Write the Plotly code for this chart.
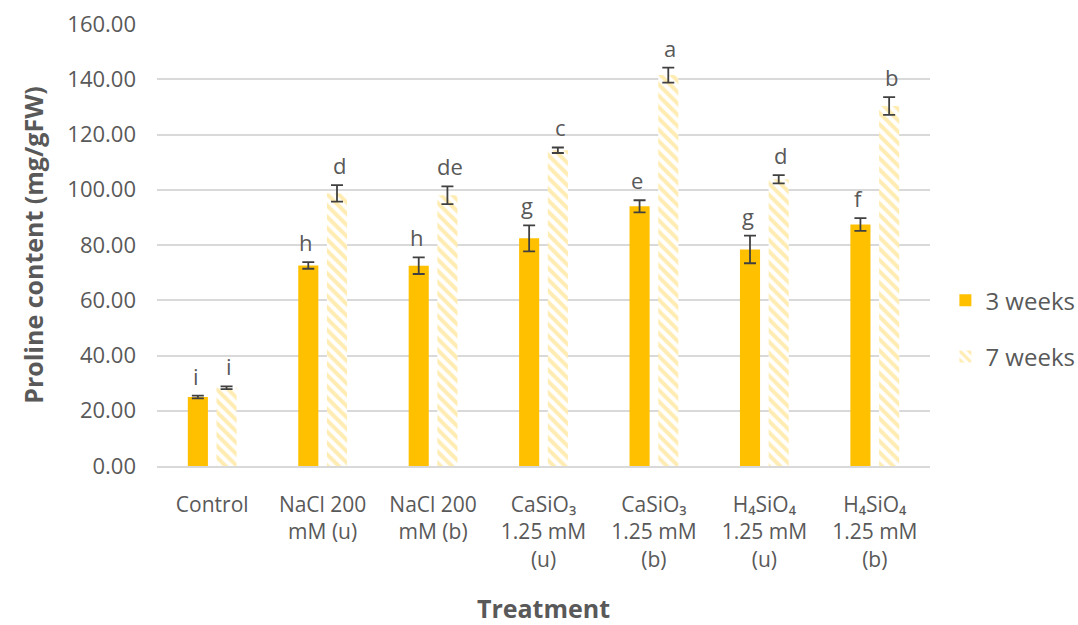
import plotly.graph_objects as go

categories = [
    "Control",
    "NaCl 200<br>mM (u)",
    "NaCl 200<br>mM (b)",
    "CaSiO₃<br>1.25 mM<br>(u)",
    "CaSiO₃<br>1.25 mM<br>(b)",
    "H₄SiO₄<br>1.25 mM<br>(u)",
    "H₄SiO₄<br>1.25 mM<br>(b)",
]
weeks3 = [25.0, 72.6, 72.5, 82.4, 94.0, 78.4, 87.4]
weeks3_err = [0.5, 1.2, 3.0, 4.7, 2.2, 5.0, 2.3]
weeks3_letters = ["i", "h", "h", "g", "e", "g", "f"]
weeks7 = [28.3, 98.7, 98.0, 114.3, 141.5, 103.8, 130.3]
weeks7_err = [0.5, 3.0, 3.2, 1.0, 2.7, 1.5, 3.2]
weeks7_letters = ["i", "d", "de", "c", "a", "d", "b"]
y_ticks = [0, 20, 40, 60, 80, 100, 120, 140, 160]

font_family = "'Open Sans', sans-serif"
text_grey = "#595959"
err_style = dict(type="data", thickness=1.8, width=6, color="#404040")

fig = go.Figure()
fig.add_trace(go.Bar(
    name="3 weeks", x=categories, y=weeks3, legendgroup="w3",
    marker=dict(color="#FFC000", line=dict(width=0)),
    error_y=dict(array=weeks3_err, **err_style),
))
fig.add_trace(go.Bar(
    name="7 weeks", x=categories, y=weeks7, legendgroup="w7",
    marker=dict(color="white", line=dict(width=0),
                pattern=dict(shape="\\", fgcolor="#FFD966", bgcolor="white",
                             size=8, solidity=0.5)),
    error_y=dict(array=weeks7_err, **err_style),
))

# significance letters above each error bar
for i, cat in enumerate(categories):
    for val, err, lab, off in ((weeks3, weeks3_err, weeks3_letters, -0.15),
                               (weeks7, weeks7_err, weeks7_letters, 0.15)):
        fig.add_annotation(
            x=i + off, y=val[i] + err[i], text=lab[i], showarrow=False,
            xref="x", yref="y", yanchor="bottom", yshift=3,
            font=dict(size=22, color=text_grey, family=font_family),
        )

fig.update_layout(
    width=1078, height=625,
    margin=dict(l=157, r=148, t=24, b=159, autoexpand=False),
    plot_bgcolor="white", paper_bgcolor="white",
    barmode="group", bargap=0.48, bargroupgap=0.3,
    font=dict(family=font_family, color=text_grey, size=21),
    legend=dict(xref="container", yref="container", x=0.877, y=0.474,
                yanchor="middle", xanchor="left",
                font=dict(size=24, color=text_grey),
                itemwidth=30, tracegroupgap=22),
)
fig.update_xaxes(
    type="category",
    title=dict(text="<b>Treatment</b>", font=dict(size=25, color=text_grey), standoff=34),
    tickfont=dict(size=21, color=text_grey),
    ticklabelstandoff=19,
    showline=True, linecolor="#D9D9D9", linewidth=1.5, ticks="",
)
fig.update_yaxes(
    range=[0, 160], tickvals=y_ticks,
    ticktext=[f"{v:.2f}" for v in y_ticks],
    title=dict(text="<b>Proline content (mg/gFW)</b>", font=dict(size=25, color=text_grey), standoff=16),
    tickfont=dict(size=22, color=text_grey),
    ticklabelstandoff=20,
    showgrid=True, gridcolor="#D9D9D9", gridwidth=1.5,
    zeroline=False, showline=False, ticks="",
)

fig.write_html("out.html")
